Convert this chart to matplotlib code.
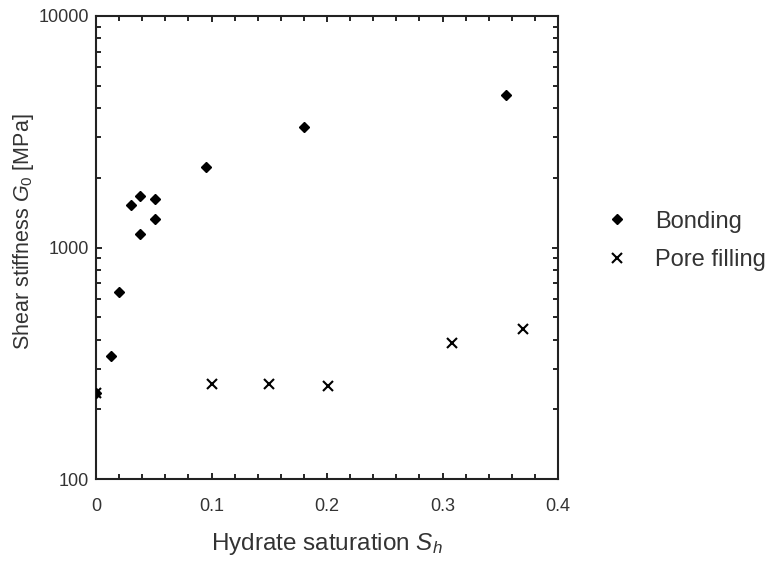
import numpy as np
import matplotlib.pyplot as plt
from matplotlib.ticker import FixedLocator, LogLocator, NullFormatter

plt.rcParams['font.family'] = ['Liberation Sans', 'DejaVu Sans']
plt.rcParams['mathtext.fontset'] = 'custom'
plt.rcParams['mathtext.it'] = 'Liberation Sans:italic'
plt.rcParams['mathtext.rm'] = 'Liberation Sans'

# Bonding
bond_sh = [0.0, 0.013, 0.020, 0.030, 0.038, 0.038, 0.051, 0.051, 0.0956, 0.180, 0.3554]
bond_g0 = [235, 341, 640, 1528, 1675, 1143, 1620, 1325, 2220, 3310, 4557]

# Pore filling
pore_sh = [0.0, 0.1005, 0.1497, 0.2007, 0.3078, 0.370]
pore_g0 = [235, 257, 257, 251, 385, 443]

xticks = [0, 0.1, 0.2, 0.3, 0.4]
xticklabels = ['0', '0.1', '0.2', '0.3', '0.4']
yticks = [100, 1000, 10000]
yticklabels = ['100', '1000', '10000']

fig = plt.figure(figsize=(7.7, 5.67), dpi=100)
ax = fig.add_axes([96/770, 1-479/567, (558-96)/770, (479-16)/567])

ax.plot(bond_sh, bond_g0, 'D', color='black', ms=5.5, label='Bonding', zorder=3)
ax.plot(pore_sh, pore_g0, 'x', color='black', ms=7, mew=1.5, label='Pore filling', zorder=3)

ax.set_yscale('log')
ax.set_xlim(0, 0.4)
ax.set_ylim(100, 10000)

ax.set_xticks(xticks)
ax.set_xticklabels(xticklabels)
ax.xaxis.set_minor_locator(FixedLocator(np.arange(0, 0.401, 0.02)))
ax.set_yticks(yticks)
ax.set_yticklabels(yticklabels)
ax.yaxis.set_minor_locator(LogLocator(base=10, subs=np.arange(2, 10)))
ax.yaxis.set_minor_formatter(NullFormatter())

ax.tick_params(which='both', direction='in', top=True, right=True, width=1.2)
ax.tick_params(which='major', length=4)
ax.tick_params(which='minor', length=3.5)
ax.tick_params(axis='x', which='major', pad=14, labelsize=13, labelcolor='#333333')
ax.tick_params(axis='y', which='major', pad=5, labelsize=13, labelcolor='#333333')
for s in ax.spines.values():
    s.set_linewidth(1.5)
    s.set_color('#222222')

ax.set_xlabel('Hydrate saturation $S_h$', fontsize=17.5, color='#333333', labelpad=11)
ax.set_ylabel('Shear stiffness $G_0$ [MPa]', fontsize=15.5, color='#333333')
ax.yaxis.set_label_coords(-0.13, 0.535)

fig.legend(loc='center left', bbox_to_anchor=(0.759, 0.575), frameon=False,
           fontsize=17, handlelength=1.0, handletextpad=1.1, labelspacing=0.7,
           labelcolor='#333333')

fig.savefig('out.png', dpi=100)
